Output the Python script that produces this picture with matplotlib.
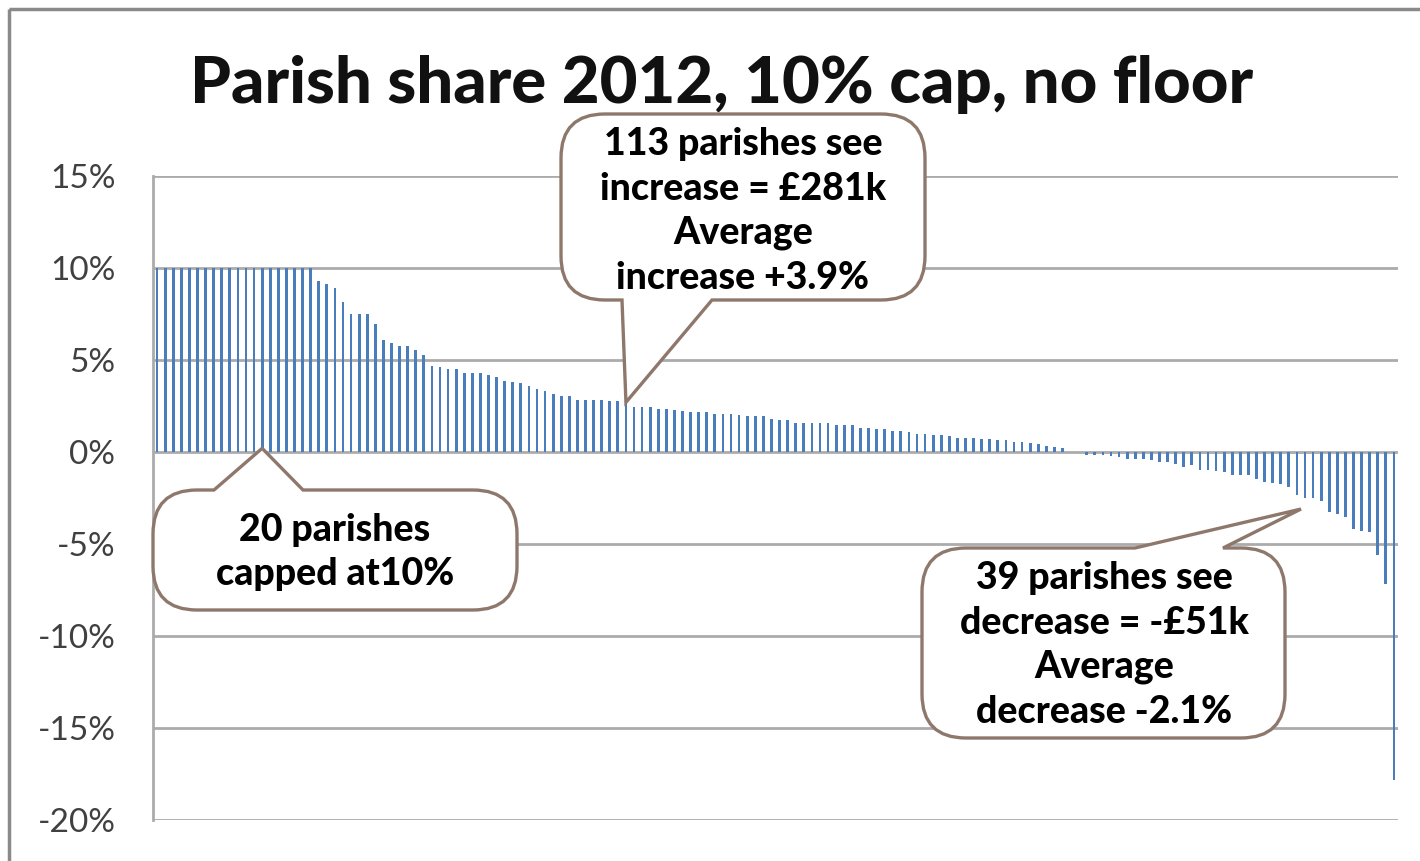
import matplotlib
matplotlib.use("Agg")
import matplotlib.pyplot as plt
from matplotlib.path import Path
from matplotlib.patches import PathPatch, Rectangle

# change in parish share, % (sorted high to low)
capped = [10.0, 10.0, 10.0, 10.0, 10.0, 10.0, 10.0, 10.0, 10.0, 10.0,
          10.0, 10.0, 10.0, 10.0, 10.0, 10.0, 10.0, 10.0, 10.0, 10.0]
rising = [9.3, 9.15, 8.9, 8.15, 7.5, 7.5, 7.5, 6.95, 6.1, 5.95,
          5.75, 5.75, 5.55, 5.25, 4.65, 4.6, 4.5, 4.5, 4.3, 4.3,
          4.3, 4.2, 4.05, 3.85, 3.8, 3.75, 3.6, 3.4, 3.3, 3.15,
          3.05, 3.05, 2.85, 2.8, 2.8, 2.8,
          2.78, 2.78, 2.7, 2.47, 2.47, 2.47, 2.36, 2.33, 2.27, 2.24,
          2.18, 2.18, 2.15, 2.09, 2.09, 2.09, 2.0, 1.96, 1.96, 1.96,
          1.78, 1.75, 1.75, 1.56, 1.56, 1.56, 1.56, 1.55, 1.45, 1.45,
          1.45, 1.33, 1.33, 1.24, 1.24, 1.15, 1.15, 1.09, 1.0, 1.0,
          0.9, 0.9, 0.87, 0.78, 0.78, 0.78, 0.69, 0.69, 0.64, 0.64,
          0.55, 0.55, 0.51, 0.42, 0.33, 0.27, 0.24]
unchanged = [0.0, 0.0]
falling = [-0.15, -0.15, -0.18, -0.22, -0.27, -0.36, -0.36, -0.4, -0.45, -0.55,
           -0.55, -0.64, -0.82, -0.73, -1.0, -1.0, -1.05, -1.09, -1.27, -1.27,
           -1.27, -1.45, -1.64, -1.67, -1.73, -1.9, -2.36, -2.5, -2.5, -2.64,
           -3.27, -3.36, -3.55, -4.18, -4.27, -4.36, -5.6, -7.2, -17.8]

changes = capped + rising + unchanged + falling
yticks = [-20, -15, -10, -5, 0, 5, 10, 15]

title = "Parish share 2012, 10% cap, no floor"
note_up = "113 parishes see\nincrease = £281k\nAverage\nincrease +3.9%"
note_cap = "20 parishes\ncapped at10%"
note_down = "39 parishes see\ndecrease = -£51k\nAverage\ndecrease -2.1%"

W, H = 1420, 861
fig = plt.figure(figsize=(W / 100, H / 100), dpi=100)
fig.patch.set_facecolor("white")

ax = fig.add_axes([153 / W, 1 - 820 / H, 1245 / W, 644 / H])
n = len(changes)
ax.bar(range(n), changes, width=0.34, color="#4A7DBB", zorder=3)
ax.set_xlim(-0.5, n - 0.5)
ax.set_ylim(-20, 15)
ax.set_yticks(yticks)
ax.set_yticklabels([f"{t}%" for t in yticks], fontname="Lato", fontsize=24,
                   color="#404040")
ax.tick_params(axis="y", length=0, pad=27)
ax.set_xticks([])
for t in yticks:
    ax.axhline(t, color="#ABABAB", lw=2.0, zorder=1)
for s in ["top", "right", "bottom"]:
    ax.spines[s].set_visible(False)
ax.spines["left"].set_color("#ABABAB")
ax.spines["left"].set_linewidth(2.0)

# overlay in pixel coordinates for the frame, title and callouts
ov = fig.add_axes([0, 0, 1, 1], zorder=5)
ov.set_xlim(0, W)
ov.set_ylim(H, 0)
ov.axis("off")
ov.patch.set_alpha(0)

ov.add_patch(Rectangle((9, 9), W + 20, H + 20, fill=False,
                       edgecolor="#8A8A8A", lw=2.5))
ov.text(722, 84, title, ha="center", va="center", fontname="Lato",
        fontweight="black", fontsize=47, color="#111111")


def data_to_px(x, y):
    dx, dy = ax.transData.transform((x, y))
    return dx, H - dy


def callout(x0, y0, x1, y1, a, b, tip, side, r=44):
    P = Path
    verts = [(x0 + r, y0)]
    codes = [P.MOVETO]
    if side == "top":
        verts += [(a, y0), tip, (b, y0)]
        codes += [P.LINETO] * 3
    verts += [(x1 - r, y0), (x1, y0), (x1, y0 + r), (x1, y1 - r),
              (x1, y1), (x1 - r, y1)]
    codes += [P.LINETO, P.CURVE3, P.CURVE3, P.LINETO, P.CURVE3, P.CURVE3]
    if side == "bottom":
        verts += [(b, y1), tip, (a, y1)]
        codes += [P.LINETO] * 3
    verts += [(x0 + r, y1), (x0, y1), (x0, y1 - r), (x0, y0 + r),
              (x0, y0), (x0 + r, y0), (x0 + r, y0)]
    codes += [P.LINETO, P.CURVE3, P.CURVE3, P.LINETO, P.CURVE3, P.CURVE3,
              P.CLOSEPOLY]
    ov.add_patch(PathPatch(Path(verts, codes), facecolor="white",
                           edgecolor="#8E786C", lw=2.4, zorder=6))


fig.canvas.draw()
up_i = len(capped) + 38
callout(561, 114, 925, 300, 622, 712, data_to_px(up_i, changes[up_i]), "bottom")
callout(153, 490, 517, 610, 214, 303, data_to_px(13, 0.2), "top")
down_i = n - 12
callout(922, 548, 1285, 738, 1135, 1223, data_to_px(down_i - 0.5, -3.1), "top")

kw = dict(ha="center", va="center", fontname="Lato", fontweight="black",
          fontsize=27, color="black", linespacing=1.37, zorder=7)
ov.text(743, 211, note_up, **kw)
ov.text(335, 552, note_cap, **kw)
ov.text(1104, 645, note_down, **kw)

fig.savefig("out.png", dpi=100, facecolor="white")
